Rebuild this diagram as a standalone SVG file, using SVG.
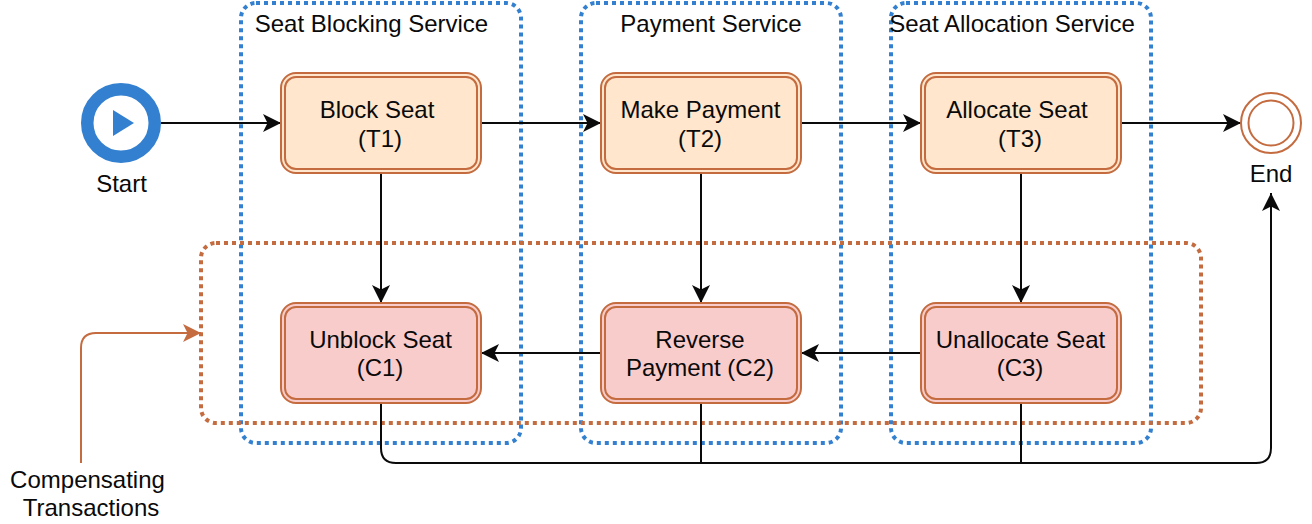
<svg xmlns="http://www.w3.org/2000/svg" width="1312" height="524" viewBox="0 0 1312 524">
<style>
text{font-family:"Liberation Sans",Arial,sans-serif;font-size:24px;fill:#0a0a0a;text-anchor:middle}
.blue{fill:none;stroke:#3380d0;stroke-width:4;stroke-dasharray:4 4}
.red{fill:none;stroke:#c46c40;stroke-width:4;stroke-dasharray:4 4}
.t{fill:#ffe6cc;stroke:#c46c40;stroke-width:2}
.c{fill:#f9cccc;stroke:#c46c40;stroke-width:2}
.in{fill:none;stroke:#c46c40;stroke-width:2}
.e{fill:none;stroke:#0a0a0a;stroke-width:2;}
</style>
<defs>
<marker id="a" markerUnits="userSpaceOnUse" markerWidth="20" markerHeight="20" refX="18" refY="9" orient="auto"><path d="M0 0L18 9L0 18L4.500 9Z" fill="#0a0a0a"/></marker>
<marker id="o" markerUnits="userSpaceOnUse" markerWidth="20" markerHeight="20" refX="18" refY="9" orient="auto"><path d="M0 0L18 9L0 18L4.500 9Z" fill="#c46c40"/></marker>
</defs>
<g id="groups">
<rect id="svc1" class="blue" x="241" y="3" width="280" height="440" rx="15"/>
<rect id="svc2" class="blue" x="581" y="3" width="260" height="440" rx="15"/>
<rect id="svc3" class="blue" x="891" y="3" width="260" height="440" rx="15"/>
<rect id="comp" class="red" x="201" y="243" width="1000" height="180" rx="15"/>
</g>
<g id="connectors">
<path class="e" marker-end="url(#a)" d="M161 123H281"/>
<path class="e" marker-end="url(#a)" d="M481 123H601"/>
<path class="e" marker-end="url(#a)" d="M801 123H921"/>
<path class="e" marker-end="url(#a)" d="M1121 123H1241"/>
<path class="e" marker-end="url(#a)" d="M381 173V303"/>
<path class="e" marker-end="url(#a)" d="M701 173V303"/>
<path class="e" marker-end="url(#a)" d="M1021 173V303"/>
<path class="e" marker-end="url(#a)" d="M921 353H801"/>
<path class="e" marker-end="url(#a)" d="M601 353H481"/>
<path class="e" marker-end="url(#a)" d="M381 403V448Q381 463 396 463H1256Q1271 463 1271 448V193"/>
<path class="e" d="M701 403V463"/>
<path class="e" d="M1021 403V463"/>
<path fill="none" stroke="#c46c40" stroke-width="2" marker-end="url(#o)" d="M81 463V348Q81 333 96 333H201"/>
</g>
<g id="start"><circle cx="121" cy="123" r="33.750" fill="#fff" stroke="#3380d0" stroke-width="12.500"/><path d="M113 110L134 123L113 136Z" fill="#3380d0"/><text x="121.500" y="191.500">Start</text></g>
<g id="end"><circle cx="1271" cy="123" r="30" fill="#fff" class="in"/><circle cx="1271" cy="123" r="22.500" fill="none" class="in"/><text x="1271" y="181.500">End</text></g>
<g id="svc1-label"><text x="371.500" y="32">Seat Blocking Service</text></g>
<g id="svc2-label"><text x="711" y="32">Payment Service</text></g>
<g id="svc3-label"><text x="1012" y="32">Seat Allocation Service</text></g>
<g id="t1"><rect class="t" x="281" y="73" width="200" height="100" rx="15"/><rect class="in" x="285" y="77" width="192" height="92" rx="11"/><text x="377" y="118">Block Seat</text><text x="380" y="146.500">(T1)</text></g>
<g id="t2"><rect class="t" x="601" y="73" width="200" height="100" rx="15"/><rect class="in" x="605" y="77" width="192" height="92" rx="11"/><text x="700.500" y="118">Make Payment</text><text x="700" y="146.500">(T2)</text></g>
<g id="t3"><rect class="t" x="921" y="73" width="200" height="100" rx="15"/><rect class="in" x="925" y="77" width="192" height="92" rx="11"/><text x="1017" y="118">Allocate Seat</text><text x="1020" y="146.500">(T3)</text></g>
<g id="c1"><rect class="c" x="281" y="303" width="200" height="100" rx="15"/><rect class="in" x="285" y="307" width="192" height="92" rx="11"/><text x="380.500" y="348">Unblock Seat</text><text x="380" y="376">(C1)</text></g>
<g id="c2"><rect class="c" x="601" y="303" width="200" height="100" rx="15"/><rect class="in" x="605" y="307" width="192" height="92" rx="11"/><text x="700" y="348">Reverse</text><text x="700" y="376">Payment (C2)</text></g>
<g id="c3"><rect class="c" x="921" y="303" width="200" height="100" rx="15"/><rect class="in" x="925" y="307" width="192" height="92" rx="11"/><text x="1020.500" y="348">Unallocate Seat</text><text x="1020" y="376">(C3)</text></g>
<g id="note"><text x="87.500" y="488">Compensating</text><text x="91" y="516">Transactions</text></g>
</svg>
